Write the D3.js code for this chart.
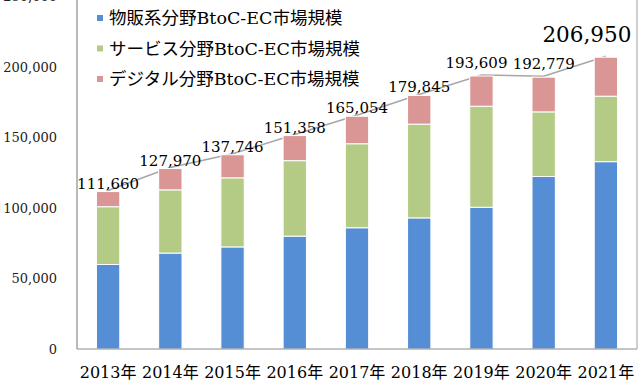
<!DOCTYPE html>
<html>
<head>
<meta charset="utf-8">
<script src="https://cdn.jsdelivr.net/npm/d3@7"></script>
<style>
  body { margin: 0; background: #fff; }
  svg { display: block; }
  svg text { font-family: "DejaVu Serif", "Liberation Serif", "Noto Sans CJK JP", serif; }
</style>
</head>
<body>
<svg id="chart"></svg>
<script>
// data
const years = ['2013年', '2014年', '2015年', '2016年', '2017年', '2018年', '2019年', '2020年', '2021年']
const goods = [59931, 68043, 72398, 80043, 86008, 92992, 100515, 122333, 132865]
const services = [40981, 44816, 49014, 53532, 59568, 66471, 71672, 45832, 46424]
const digital = [10748, 15111, 16334, 17782, 19478, 20382, 21422, 24614, 27661]
const totals = [111660, 127970, 137746, 151358, 165054, 179845, 193609, 192779, 206950]
const seriesNames = ['物販系分野BtoC-EC市場規模', 'サービス分野BtoC-EC市場規模', 'デジタル分野BtoC-EC市場規模']
const yTicks = [0, 50000, 100000, 150000, 200000, 250000]

const colors = ['#558ed5', '#b3cb84', '#d99694']

const width = 640, height = 384
const margin = {top: -3.5, right: 3, bottom: 35, left: 77}

const svg = d3.select('#chart')
    .attr('width', width)
    .attr('height', height)

const x = d3.scaleBand()
    .domain(years)
    .range([margin.left, width - margin.right])
    .paddingInner(0.625)
    .paddingOuter(0.3125)

const y = d3.scaleLinear()
    .domain([0, 250000])
    .range([height - margin.bottom, margin.top])

// y labels
const fmt = d3.format(',')
svg.append('g')
    .selectAll('text')
    .data(yTicks)
    .join('text')
        .attr('x', 57)
        .attr('y', d => y(d))
        .attr('dy', '0.36em')
        .attr('text-anchor', 'end')
        .attr('font-size', '13px')
        .attr('fill', '#222')
        .text(d => fmt(d))

// total line (behind bars)
svg.append('path')
    .datum(totals)
    .attr('fill', 'none')
    .attr('stroke', '#a6a6a6')
    .attr('stroke-width', 1.5)
    .attr('d', d3.line()
        .x((d, i) => x(years[i]) + x.bandwidth() / 2)
        .y(d => y(d) - 1))

// stacked bars
const rows = years.map((yr, i) => ({year: yr, goods: goods[i], services: services[i], digital: digital[i]}))
const stack = d3.stack().keys(['goods', 'services', 'digital'])(rows)

svg.append('g')
    .selectAll('g')
    .data(stack)
    .join('g')
        .attr('fill', (d, i) => colors[i])
    .selectAll('rect')
    .data(d => d)
    .join('rect')
        .attr('x', d => x(d.data.year))
        .attr('y', d => y(d[1]))
        .attr('width', x.bandwidth())
        .attr('height', d => y(d[0]) - y(d[1]))
        .attr('stroke', '#fff')
        .attr('stroke-width', 1)

// plot frame: left axis, bottom, right border
const bottom = height - margin.bottom
svg.append('line')
    .attr('x1', margin.left).attr('x2', margin.left)
    .attr('y1', 0).attr('y2', bottom)
    .attr('stroke', '#8c8c8c').attr('stroke-width', 1.2)
svg.append('line')
    .attr('x1', margin.left).attr('x2', width - margin.right)
    .attr('y1', bottom).attr('y2', bottom)
    .attr('stroke', '#8c8c8c').attr('stroke-width', 1.2)
svg.append('line')
    .attr('x1', width - margin.right).attr('x2', width - margin.right)
    .attr('y1', 0).attr('y2', bottom)
    .attr('stroke', '#a0a0a0').attr('stroke-width', 1)

// total labels (last one is enlarged, 2019 nudged left like the original)
const last = totals.length - 1
svg.append('g')
    .selectAll('text')
    .data(totals)
    .join('text')
        .attr('x', (d, i) => x(years[i]) + x.bandwidth() / 2 + (i === last ? -19 : i === 6 ? -5 : 0))
        .attr('y', (d, i) => y(d) - (i === last ? 15 : i >= 6 ? 8 : 3))
        .attr('text-anchor', 'middle')
        .attr('font-size', (d, i) => i === last ? '21.5px' : '15px')
        .text(d => fmt(d))

// x labels
svg.append('g')
    .selectAll('text')
    .data(years)
    .join('text')
        .attr('x', d => x(d) + x.bandwidth() / 2)
        .attr('y', 378)
        .attr('text-anchor', 'middle')
        .attr('font-size', '16px')
        .text(d => d)

// legend
const legend = svg.append('g')
    .selectAll('g')
    .data(seriesNames)
    .join('g')
        .attr('transform', (d, i) => 'translate(97,' + (15 + i * 30.5) + ')')
legend.append('rect')
    .attr('width', 6)
    .attr('height', 6)
    .attr('fill', (d, i) => colors[i])
legend.append('text')
    .attr('x', 12)
    .attr('y', 9)
    .attr('font-size', '17.5px')
    .text(d => d)
</script>
</body>
</html>
